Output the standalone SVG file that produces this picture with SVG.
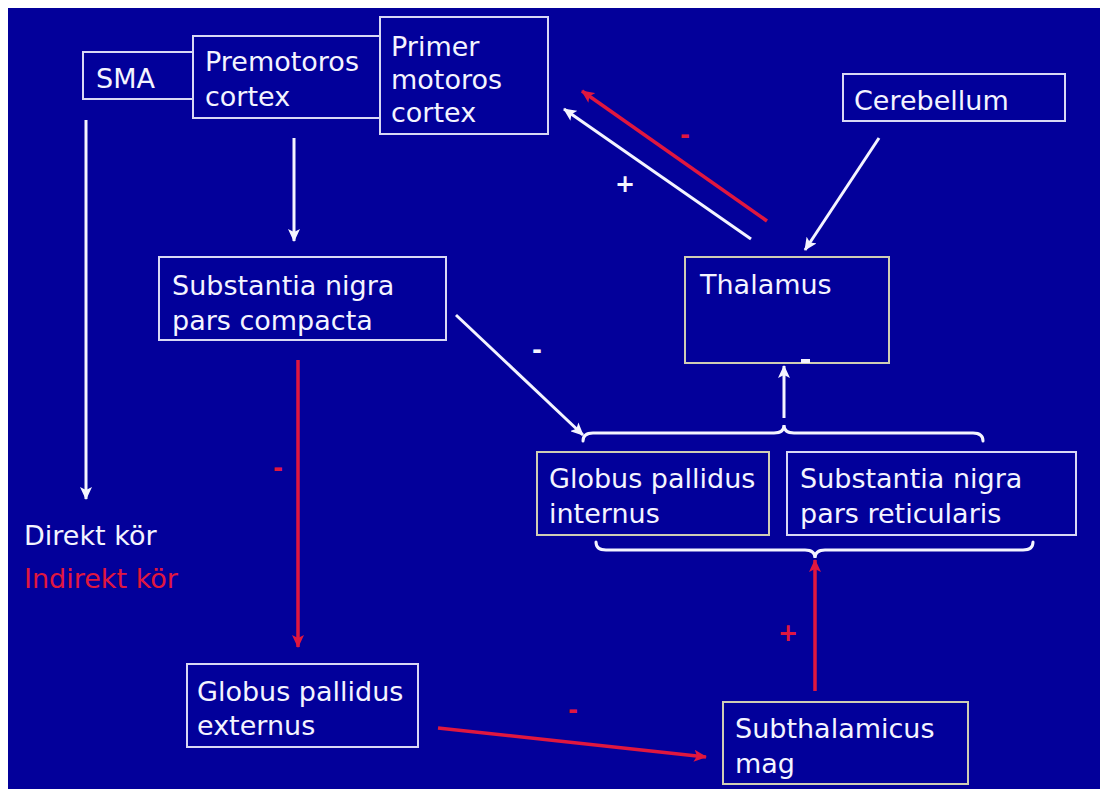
<svg xmlns="http://www.w3.org/2000/svg" width="1100" height="789" viewBox="0 0 1100 789">
<defs>
<style>
.box{fill:#02009a;stroke:#d8d8f4;stroke-width:2}
.boxt{fill:#02009a;stroke:#cfcdb4;stroke-width:2}
.t{font-family:"DejaVu Sans","Liberation Sans",sans-serif;font-size:27px;fill:#f4f4ff}
.w{stroke:#f4f4ff;stroke-width:3;fill:none}
.r{stroke:#e0173f;stroke-width:3.5;fill:none}
.br{stroke:#f4f4ff;stroke-width:3;fill:none;stroke-linecap:round}
.sign{font-family:"DejaVu Sans","Liberation Sans",sans-serif;font-size:24px;font-weight:bold}
</style>
<marker id="aw" markerWidth="14" markerHeight="12" refX="12" refY="6" orient="auto" markerUnits="userSpaceOnUse">
<path d="M0,0 L13,6 L0,12 L3,6 Z" fill="#f4f4ff"/>
</marker>
<marker id="ar" markerWidth="14" markerHeight="12" refX="12" refY="6" orient="auto" markerUnits="userSpaceOnUse">
<path d="M0,0 L13,6 L0,12 L3,6 Z" fill="#e0173f"/>
</marker>
</defs>
<rect x="0" y="0" width="1100" height="789" fill="#ffffff"/>
<rect x="8" y="8" width="1092" height="781" fill="#03009a"/>

<g id="connectors">
<line class="w" x1="86" y1="120" x2="86" y2="499" marker-end="url(#aw)"/>
<line class="w" x1="294" y1="138" x2="294" y2="241" marker-end="url(#aw)"/>
<line class="w" x1="751" y1="239" x2="564" y2="109" marker-end="url(#aw)"/>
<line class="r" x1="767" y1="221" x2="582" y2="91" marker-end="url(#ar)"/>
<line class="w" x1="879" y1="138" x2="805" y2="250" marker-end="url(#aw)"/>
<line class="w" x1="456" y1="315" x2="583" y2="435" marker-end="url(#aw)"/>
<line class="w" x1="784" y1="418" x2="784" y2="366" marker-end="url(#aw)"/>
<line class="r" x1="298" y1="360" x2="298" y2="647" marker-end="url(#ar)"/>
<line class="r" x1="438" y1="728" x2="706" y2="757" marker-end="url(#ar)"/>
<line class="r" x1="815" y1="691" x2="815" y2="560" marker-end="url(#ar)"/>
<path class="br" d="M583,441 Q583,433 593,433 L774,433 Q784,433 784,425 Q784,433 794,433 L973,433 Q983,433 983,441"/>
<path class="br" d="M596,542 Q596,550 606,550 L805,550 Q815,550 815,558 Q815,550 825,550 L1023,550 Q1033,550 1033,542"/>
<text class="sign" x="685" y="143" fill="#e0173f" text-anchor="middle">-</text>
<text class="sign" x="625" y="192" fill="#f4f4ff" text-anchor="middle">+</text>
<text class="sign" x="537" y="358" fill="#f4f4ff" text-anchor="middle">-</text>
<text class="sign" x="278" y="476" fill="#e0173f" text-anchor="middle">-</text>
<text class="sign" x="573" y="718" fill="#e0173f" text-anchor="middle">-</text>
<text class="sign" x="788" y="641" fill="#e0173f" text-anchor="middle">+</text>
</g>

<g id="sma"><rect class="box" x="83" y="52" width="130" height="47"/><text class="t" x="96" y="88">SMA</text></g>
<g id="premotoros"><rect class="box" x="193" y="36" width="200" height="82"/><text class="t" x="205" y="71">Premotoros</text><text class="t" x="205" y="106">cortex</text></g>
<g id="primer"><rect class="box" x="380" y="17" width="168" height="117"/><text class="t" x="391" y="56">Primer</text><text class="t" x="391" y="89">motoros</text><text class="t" x="391" y="122">cortex</text></g>
<g id="cerebellum"><rect class="box" x="843" y="74" width="222" height="47"/><text class="t" x="854" y="110">Cerebellum</text></g>
<g id="thalamus"><rect class="boxt" x="685" y="257" width="204" height="106"/><text class="t" x="700" y="294">Thalamus</text><rect x="801" y="359" width="9" height="4" fill="#f4f4ff"/></g>
<g id="snpc"><rect class="box" x="159" y="257" width="287" height="83"/><text class="t" x="172" y="295">Substantia nigra</text><text class="t" x="172" y="330">pars compacta</text></g>
<g id="gpi"><rect class="boxt" x="537" y="452" width="232" height="83"/><text class="t" x="549" y="488">Globus pallidus</text><text class="t" x="549" y="523">internus</text></g>
<g id="snpr"><rect class="box" x="787" y="452" width="289" height="83"/><text class="t" x="800" y="488">Substantia nigra</text><text class="t" x="800" y="523">pars reticularis</text></g>
<g id="gpe"><rect class="box" x="187" y="664" width="231" height="83"/><text class="t" x="197" y="701">Globus pallidus</text><text class="t" x="197" y="735">externus</text></g>
<g id="stn"><rect class="boxt" x="723" y="702" width="245" height="82"/><text class="t" x="735" y="738">Subthalamicus</text><text class="t" x="735" y="773">mag</text></g>
<g id="legend"><text class="t" x="24" y="545">Direkt kör</text><text class="t" x="24" y="588" style="fill:#e0173f">Indirekt kör</text></g>
</svg>
